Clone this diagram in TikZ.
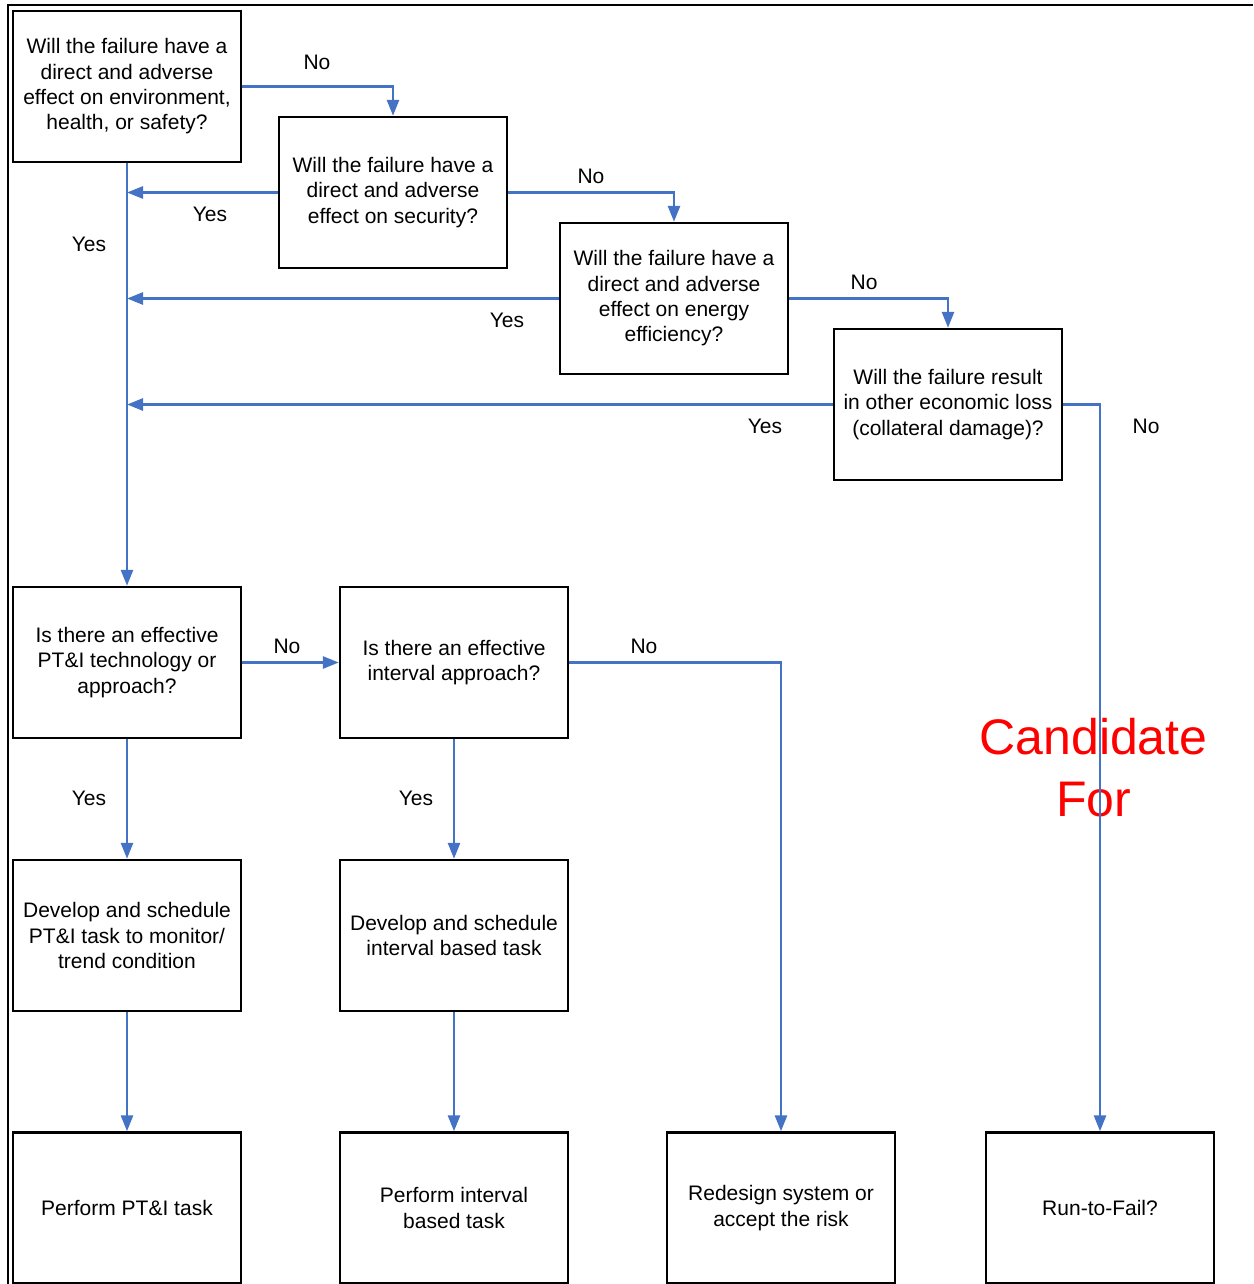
\documentclass[tikz,border=0pt]{standalone}
\usepackage{fontspec}
\setmainfont{Liberation Sans}
\usetikzlibrary{arrows.meta}
\definecolor{flowblue}{RGB}{68,114,196}
\begin{document}
\begin{tikzpicture}[x=1pt,y=-1pt,
  box/.style={draw=black,line width=2.4pt,rectangle,minimum width=228pt,minimum height=151pt,inner sep=0pt,align=center,font=\fontsize{21}{25.3}\selectfont},
  lbl/.style={inner sep=0pt,font=\fontsize{21}{25.3}\selectfont},
  conn/.style={draw=flowblue,line width=2.7pt,-{Triangle[length=16pt,width=12pt]}},
  frame/.style={draw=black,line width=2.6pt}]
\useasboundingbox (0,0) rectangle (1253,1284);
% outer frame
\coordinate (f1) at (8,1284);
\coordinate (f2) at (8,5);
\coordinate (f3) at (1253,5);
\draw[frame] (f1) -- (f2) -- (f3);
% red annotation (beneath the line)
\node[inner sep=0pt,align=center,text=red,anchor=north,font=\fontsize{50}{62}\selectfont] (cand) at (1093.5,718) {Candidate\\For};
% boxes
\node[box] (A) at (127,86.5) {Will the failure have a\\direct and adverse\\effect on environment,\\health, or safety?};
\node[box] (B) at (393,192.5) {Will the failure have a\\direct and adverse\\effect on security?};
\node[box] (C) at (674,298.5) {Will the failure have a\\direct and adverse\\effect on energy\\efficiency?};
\node[box] (D) at (948,404.5) {Will the failure result\\in other economic loss\\(collateral damage)?};
\node[box] (E) at (127,662.5) {Is there an effective\\PT\&I technology or\\approach?};
\node[box] (F) at (454,662.5) {Is there an effective\\interval approach?};
\node[box] (G) at (127,935.5) {Develop and schedule\\PT\&I task to monitor/\\trend condition};
\node[box] (H) at (454,935.5) {Develop and schedule\\interval based task};
\node[box] (I) at (127,1208) {Perform PT\&I task};
\node[box] (J) at (454,1208) {Perform interval\\based task};
\node[box] (K) at (781,1208) {Redesign system or\\accept the risk};
\node[box] (L) at (1100,1208) {Run-to-Fail?};
% connectors
\draw[conn] (A.east) -| (B.north);
\draw[conn] (B.east) -| (C.north);
\draw[conn] (C.east) -| (D.north);
\draw[conn] (D.east) -| (L.north);
\draw[conn] (A.south) -- (E.north);
\draw[conn] (B.west) -- (B.west -| A.south);
\draw[conn] (C.west) -- (C.west -| A.south);
\draw[conn] (D.west) -- (D.west -| A.south);
\draw[conn] (E.east) -- (F.west);
\draw[conn] (F.east) -| (K.north);
\draw[conn] (E.south) -- (G.north);
\draw[conn] (F.south) -- (H.north);
\draw[conn] (G.south) -- (I.north);
\draw[conn] (H.south) -- (J.north);
% labels
\node[lbl] (l1) at (317,62) {No};
\node[lbl] (l2) at (210,214) {Yes};
\node[lbl] (l3) at (89,244) {Yes};
\node[lbl] (l4) at (591,176) {No};
\node[lbl] (l5) at (507,320) {Yes};
\node[lbl] (l6) at (864,282) {No};
\node[lbl] (l7) at (765,426) {Yes};
\node[lbl] (l8) at (1146,426) {No};
\node[lbl] (l9) at (287,646) {No};
\node[lbl] (l10) at (644,646) {No};
\node[lbl] (l11) at (89,798) {Yes};
\node[lbl] (l12) at (416,798) {Yes};
\end{tikzpicture}
\end{document}
